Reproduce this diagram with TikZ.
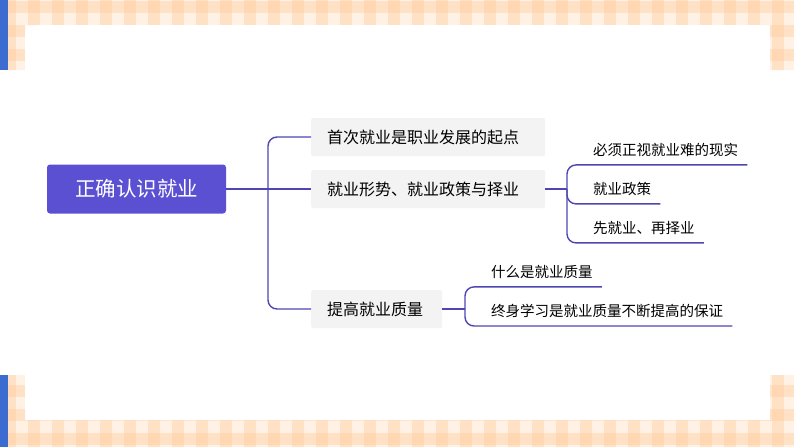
\documentclass[tikz,border=0pt]{standalone}
\usepackage{fontspec}
\setmainfont{Noto Sans CJK SC}
\definecolor{rootpurple}{HTML}{5B50D2}
\definecolor{linkpurple}{HTML}{4F46B4}
\definecolor{boxgray}{HTML}{F3F3F3}
\definecolor{check}{HTML}{FFC68F}
\definecolor{barblue}{HTML}{3D6CD0}
\tikzset{
  root/.style={fill=rootpurple, text=white, rounded corners=3pt, minimum width=179pt, minimum height=49pt, font=\fontsize{20.5}{24}\selectfont},
  topic/.style={fill=boxgray, rounded corners=2pt, minimum height=38pt, inner xsep=16pt, align=left, font=\fontsize{16}{19}\selectfont},
  leaf/.style={inner xsep=9pt, inner ysep=8pt, font=\fontsize{14.5}{17}\selectfont},
  link/.style={draw=linkpurple, line width=1.4pt, rounded corners=9pt}
}
\begin{document}
\begin{tikzpicture}[x=1pt,y=-1pt]
  \useasboundingbox (0,0) rectangle (794,447);
  % gingham frame
  \begin{scope}
    \clip (0,0) rectangle (794,25) (8,0) rectangle (25,70) (770,0) rectangle (794,70)
          (0,420) rectangle (794,447) (8,375) rectangle (25,447) (770,375) rectangle (794,447);
    \fill[check!25] (0,0) rectangle (794,447);
    \foreach \i in {0,...,33}
      \fill[check, opacity=0.35] (\i*24+4,0) rectangle (\i*24+16,447);
    \foreach \j in {0,...,18}
      \fill[check, opacity=0.35] (0,\j*24+1) rectangle (794,\j*24+13);
  \end{scope}
  \fill[barblue] (0,0) rectangle (8,70);
  \fill[barblue] (0,375) rectangle (8,447);
  \fill[white, rounded corners=12pt] (25,25) rectangle (770,420);

  % nodes
  \node[root] (r) at (136.5,189) {正确认识就业};
  \node[topic, anchor=west, text width=202pt] (s1) at (311,137) {首次就业是职业发展的起点};
  \node[topic, anchor=west, text width=202pt] (s2) at (311,189) {就业形势、就业政策与择业};
  \node[topic, anchor=west, text width=99pt] (s3) at (311,309) {提高就业质量};

  \node[leaf, anchor=west] (c1) at (584,150) {必须正视就业难的现实};
  \node[leaf, anchor=west] (c2) at (584,189) {就业政策};
  \node[leaf, anchor=west] (c3) at (584,228) {先就业、再择业};
  \node[leaf, anchor=west] (d1) at (482,272) {什么是就业质量};
  \node[leaf, anchor=west] (d2) at (482,311) {终身学习是就业质量不断提高的保证};

  \coordinate (j1) at (268,189);
  \coordinate (j2) at (567,189);
  \coordinate (j3) at (465,309);

  % connectors
  \draw[link] (r.east) -- (s2.west);
  \draw[link] (j1) |- (s1.west);
  \draw[link] (j1) |- (s3.west);
  \draw[link] (s2.east) -- (j2);
  \draw[link] (j2) |- (c1.south east);
  \draw[link] (j2) |- (c2.south east);
  \draw[link] (j2) |- (c3.south east);
  \draw[link] (s3.east) -- (j3);
  \draw[link] (j3) |- (d1.south east);
  \draw[link] (j3) |- (d2.south east);
\end{tikzpicture}
\end{document}
